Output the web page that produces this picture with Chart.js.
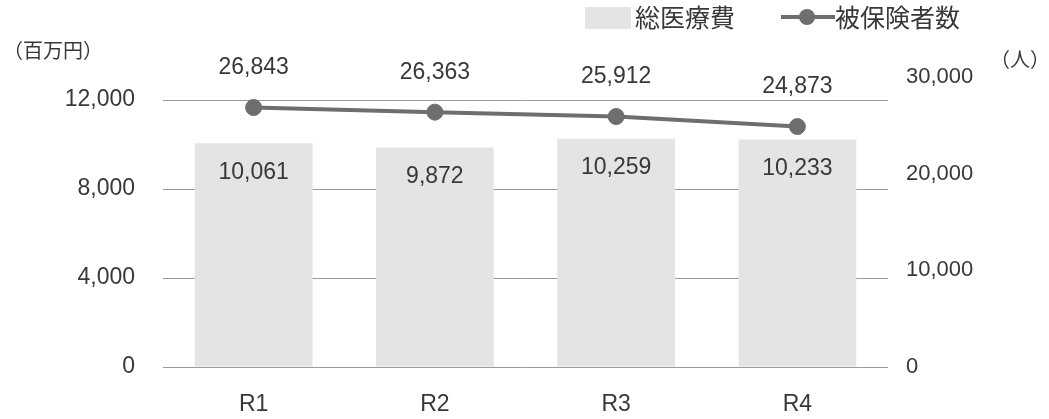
<!DOCTYPE html>
<html><head><meta charset="utf-8">
<script src="https://cdn.jsdelivr.net/npm/chart.js@4.4.1/dist/chart.umd.min.js"></script>
<style>html,body{margin:0;padding:0;background:#fff;}canvas{display:block;}</style>
</head><body>
<canvas id="c" width="1049" height="419"></canvas>
<script>
const categories = ['R1','R2','R3','R4'];
const medicalCost = [10061, 9872, 10259, 10233];
const insuredCount = [26843, 26363, 25912, 24873];
const leftTicks = [0, 4000, 8000, 12000];
const rightTicks = [0, 10000, 20000, 30000];
const seriesNames = ['総医療費', '被保険者数'];
const unitLeft = '（百万円）';
const unitRight = '（人）';

const NUM_FONT = '"Liberation Sans", Arial, sans-serif';
const JP_FONT = '"Noto Sans CJK JP", "Noto Sans", sans-serif';
const TEXT = '#383838';
const BAR = '#e4e4e4';
const LINE = '#6e6e6e';
const fmt = v => v.toLocaleString('en-US');

const overlay = {
  id: 'overlay',
  afterDraw(chart) {
    const ctx = chart.ctx;
    ctx.save();
    ctx.fillStyle = TEXT;
    ctx.textAlign = 'center';
    ctx.textBaseline = 'middle';
    ctx.font = '23px ' + NUM_FONT;
    chart.getDatasetMeta(0).data.forEach((b, i) => {
      ctx.fillText(fmt(medicalCost[i]), b.x, b.y + 29);
    });
    chart.getDatasetMeta(1).data.forEach((p, i) => {
      ctx.fillText(fmt(insuredCount[i]), p.x, p.y - 40);
    });
    // units
    ctx.font = '20px ' + JP_FONT;
    ctx.textAlign = 'left';
    ctx.fillText(unitLeft, 3, 50);
    ctx.fillText(unitRight, 990, 59);
    // legend
    ctx.fillStyle = BAR;
    ctx.fillRect(585, 7, 46, 22);
    ctx.fillStyle = TEXT;
    ctx.font = '25px ' + JP_FONT;
    ctx.fillText(seriesNames[0], 635, 17);
    ctx.strokeStyle = LINE;
    ctx.lineWidth = 4;
    ctx.beginPath(); ctx.moveTo(781, 17); ctx.lineTo(835, 17); ctx.stroke();
    ctx.fillStyle = LINE;
    ctx.beginPath(); ctx.arc(807, 17, 8, 0, Math.PI * 2); ctx.fill();
    ctx.fillStyle = TEXT;
    ctx.fillText(seriesNames[1], 835, 17);
    ctx.restore();
  }
};

new Chart(document.getElementById('c'), {
  data: {
    labels: categories,
    datasets: [
      { type: 'bar', label: seriesNames[0], data: medicalCost, yAxisID: 'y',
        backgroundColor: BAR, barPercentage: 0.65, categoryPercentage: 1.0, order: 2 },
      { type: 'line', label: seriesNames[1], data: insuredCount, yAxisID: 'y2',
        borderColor: LINE, borderWidth: 4, pointRadius: 8, pointBackgroundColor: LINE,
        pointBorderColor: LINE, pointBorderWidth: 1, tension: 0, order: 1 }
    ]
  },
  options: {
    responsive: false, animation: false,
    layout: { padding: { top: 77, left: 0, right: 0, bottom: 0 } },
    plugins: { legend: { display: false }, tooltip: { enabled: false } },
    scales: {
      x: {
        grid: { display: false }, border: { display: false },
        ticks: { color: TEXT, font: { family: NUM_FONT, size: 23 }, padding: 16 },
        afterFit(s) { s.height = 52; }
      },
      y: {
        position: 'left', min: 0, max: 13040, z: 1,
        ticks: { stepSize: 4000, color: TEXT, font: { family: NUM_FONT, size: 23 }, padding: 28,
                 callback: v => fmt(v) },
        afterBuildTicks(s) { s.ticks = leftTicks.map(v => ({ value: v })); },
        grid: { color: '#9a9a9a', lineWidth: 1, drawTicks: false },
        border: { display: false },
        afterFit(s) { s.width = 163; }
      },
      y2: {
        position: 'right', min: 0, max: 30000,
        ticks: { stepSize: 10000, color: TEXT, font: { family: NUM_FONT, size: 22 }, padding: 18,
                 callback: v => fmt(v) },
        afterBuildTicks(s) { s.ticks = rightTicks.map(v => ({ value: v })); },
        grid: { display: false, drawTicks: false }, border: { display: false },
        afterFit(s) { s.width = 161; }
      }
    }
  },
  plugins: [overlay]
});
</script>
</body></html>
